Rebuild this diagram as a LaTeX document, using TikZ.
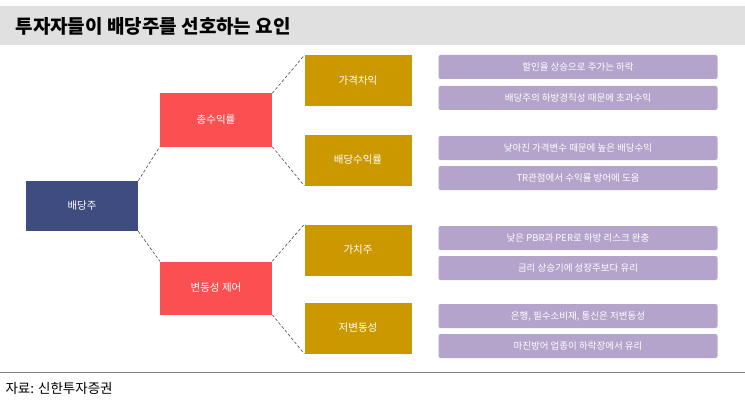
\documentclass[tikz,border=0pt]{standalone}
\usepackage{fontspec}
\setmainfont{Noto Sans CJK KR}
\begin{document}
\begin{tikzpicture}[x=1pt,y=-1pt,
 base/.style={minimum height=50pt,inner sep=0pt,text=white,font=\fontsize{10.5}{12}\selectfont},
 blue/.style={base,fill={rgb,255:red,63;green,76;blue,128},minimum width=112pt},
 red/.style={base,fill={rgb,255:red,250;green,80;blue,82},minimum width=112pt,minimum height=53pt},
 gold/.style={base,fill={rgb,255:red,204;green,152;blue,0},minimum width=107pt,minimum height=51pt},
 purp/.style={base,fill={rgb,255:red,180;green,164;blue,203},minimum width=279pt,minimum height=24pt,rounded corners=2pt,font=\fontsize{9.5}{11}\selectfont},
 con/.style={draw=black!70,densely dashed,line width=0.6pt}]
\useasboundingbox (0,0) rectangle (745,404);
\fill[black!12] (0,6) rectangle (745,45);
\node[anchor=west,font=\fontsize{19}{22}\selectfont\bfseries] (title) at (12,26) {투자자들이 배당주를 선호하는 요인};
\draw[black!50,line width=0.8pt] (0,372) -- (745,372);
\node[anchor=west,font=\fontsize{13.5}{15}\selectfont] (src) at (2,388) {자료: 신한투자증권};
\node[blue] (a) at (82,206) {배당주};
\node[red] (b1) at (216,120) {총수익률};
\node[red] (b2) at (216,288) {변동성 제어};
\node[gold] (c1) at (358,81) {가격차익};
\node[gold] (c2) at (358,160) {배당수익률};
\node[gold] (c3) at (358,250) {가치주};
\node[gold] (c4) at (358,328) {저변동성};
\node[purp] (d1) at (578,67) {할인율 상승으로 주가는 하락};
\node[purp] (d2) at (578,98) {배당주의 하방경직성 때문에 초과수익};
\node[purp] (d3) at (578,148) {낮아진 가격변수 때문에 높은 배당수익};
\node[purp] (d4) at (578,178) {TR관점에서 수익률 방어에 도움};
\node[purp] (d5) at (578,238) {낮은 PBR과 PER로 하방 리스크 완충};
\node[purp] (d6) at (578,268) {금리 상승기에 성장주보다 유리};
\node[purp] (d7) at (578,316) {은행, 필수소비재, 통신은 저변동성};
\node[purp] (d8) at (578,346) {마진방어 업종이 하락장에서 유리};
\draw[con] (a.north east) -- (b1.south west);
\draw[con] (a.south east) -- (b2.north west);
\draw[con] (b1.north east) -- (c1.north west);
\draw[con] (b1.south east) -- (c2.south west);
\draw[con] (b2.north east) -- (c3.north west);
\draw[con] (b2.south east) -- (c4.south west);
\end{tikzpicture}
\end{document}
